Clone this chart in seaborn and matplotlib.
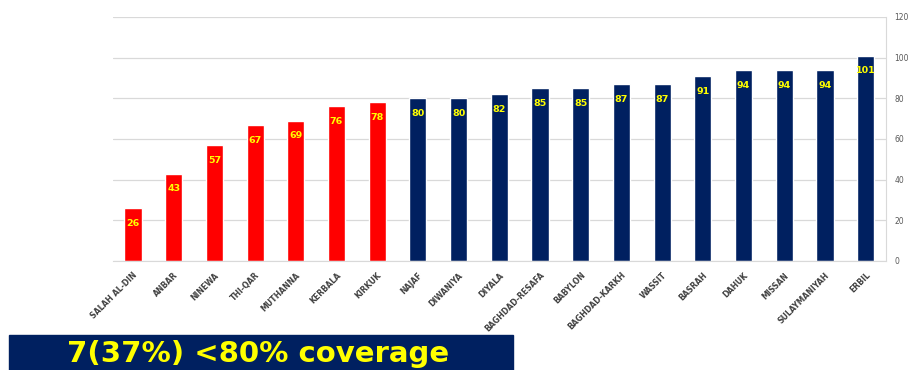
import numpy as np
import pandas as pd
import seaborn as sns
import matplotlib.pyplot as plt
from matplotlib.patches import Rectangle

provinces = ["SALAH AL-DIN", "ANBAR", "NINEWA", "THI-QAR", "MUTHANNA", "KERBALA",
             "KIRKUK", "NAJAF", "DIWANIYA", "DIYALA", "BAGHDAD-RESAFA", "BABYLON",
             "BAGHDAD-KARKH", "WASSIT", "BASRAH", "DAHUK", "MISSAN", "SULAYMANIYAH",
             "ERBIL"]
coverage = [26, 43, 57, 67, 69, 76, 78, 80, 80, 82, 85, 85, 87, 87, 91, 94, 94, 94, 101]
y_ticks = [0, 20, 40, 60, 80, 100, 120]
threshold = 80
banner_text = "7(37%) <80% coverage"

RED = "#FF0000"
NAVY = "#002060"
YELLOW = "#FFFF00"

df = pd.DataFrame({"province": provinces, "coverage": coverage})
df["group"] = np.where(df["coverage"] < threshold, "low", "ok")

sns.set_style("white")
fig = plt.figure(figsize=(9.14, 3.70), dpi=100)
ax = fig.add_axes([0.1232, 0.2946, 0.8462, 0.6595])

sns.barplot(data=df, x="province", y="coverage", hue="group",
            palette={"low": RED, "ok": NAVY}, dodge=False, width=0.42,
            legend=False, ax=ax, saturation=1)

# value labels sit inside the top of each bar
for i, v in enumerate(coverage):
    ax.annotate(str(v), (i, v), xytext=(0, -11), textcoords="offset points",
                ha="center", va="center", color=YELLOW, fontsize=6.8,
                fontweight="bold")

ax.set_ylim(0, 120)
ax.set_xlim(-0.5, len(provinces) - 0.5)
ax.set_yticks(y_ticks)
ax.yaxis.tick_right()
ax.tick_params(axis="y", length=0, labelsize=5.5, labelcolor="#595959", pad=6)
ax.yaxis.grid(True, color="#D9D9D9", linewidth=0.9)
ax.set_axisbelow(True)

ax.set_xticks(range(len(provinces)))
ax.set_xticklabels(provinces, rotation=45, ha="right", rotation_mode="anchor",
                   fontsize=5.6, fontweight="bold", color="#404040")
ax.tick_params(axis="x", length=0, pad=7)
ax.set_xticks(np.arange(-0.5, len(provinces), 1), minor=True)
ax.tick_params(axis="x", which="minor", length=3, color="#D9D9D9")
ax.set_xlabel("")
ax.set_ylabel("")

for s in ["top", "left"]:
    ax.spines[s].set_visible(False)
for s in ["right", "bottom"]:
    ax.spines[s].set_color("#D9D9D9")

fig.patches.append(Rectangle((9 / 914, 0), 504 / 914, 35 / 370,
                             transform=fig.transFigure, color=NAVY, zorder=0))
fig.text(258 / 914, 15.5 / 370, banner_text, ha="center", va="center",
         color=YELLOW, fontsize=21, fontweight="bold")

fig.savefig("out.png", dpi=100)
